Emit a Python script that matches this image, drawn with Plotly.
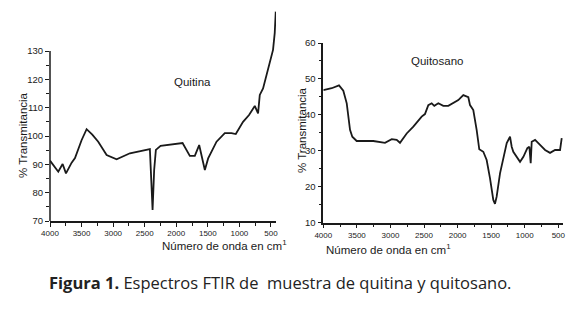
import plotly.graph_objects as go

# Quitina spectrum (wavenumber cm-1, % transmittance)
quitina_x = [4000, 3869, 3800, 3747, 3657, 3604, 3500, 3420, 3330, 3236, 3103, 2945,
             2734, 2445, 2418, 2395, 2375, 2350, 2323, 2248, 2100, 1943, 1900, 1785,
             1706, 1637, 1547, 1495, 1362, 1231, 1125, 1057, 942, 847, 756, 704, 677,
             625, 546, 467, 440, 424]
quitina_y = [91.3, 87.4, 90.1, 86.8, 90.6, 92.2, 98.5, 102.4, 100.5, 98.0, 93.3, 91.8,
             93.9, 95.3, 95.4, 84.0, 73.9, 88.0, 95.1, 96.5, 97.0, 97.6, 97.5, 93.0,
             93.0, 96.8, 88.0, 92.1, 98.0, 101.0, 101.0, 100.7, 105.0, 107.4, 110.6,
             108.0, 114.5, 116.8, 123.3, 130.4, 136.4, 143.9]

# Quitosano spectrum
quitosano_x = [4000, 3875, 3766, 3702, 3651, 3627, 3602, 3568, 3503, 3255, 3081, 2981,
               2907, 2858, 2758, 2659, 2535, 2486, 2436, 2386, 2347, 2287, 2213, 2138,
               1989, 1915, 1840, 1815, 1766, 1716, 1677, 1617, 1567, 1517, 1468, 1443,
               1418, 1368, 1319, 1268, 1219, 1194, 1170, 1120, 1070, 1020, 961, 931,
               911, 896, 846, 772, 697, 623, 548, 474, 449]
quitosano_y = [46.9, 47.4, 48.2, 46.7, 43.2, 39.5, 35.8, 33.9, 32.7, 32.7, 32.2, 33.2,
               33.0, 32.2, 34.8, 36.7, 39.5, 40.2, 42.7, 43.2, 42.5, 43.2, 42.5, 42.5,
               44.1, 45.5, 44.9, 42.7, 41.3, 35.8, 30.4, 29.7, 27.4, 22.3, 16.3, 15.2,
               17.2, 23.7, 27.9, 32.1, 33.9, 31.1, 29.7, 28.3, 26.9, 28.3, 30.7, 31.1,
               26.5, 32.5, 33.0, 31.6, 30.2, 29.4, 30.2, 30.2, 33.5]

x_ticks = [4000, 3500, 3000, 2500, 2000, 1500, 1000, 500]
x_minor = [3750, 3250, 2750, 2250, 1750, 1250, 750]
yq_ticks = [70, 80, 90, 100, 110, 120, 130]
yq_minor = [75, 85, 95, 105, 115, 125]
yc_ticks = [10, 20, 30, 40, 50, 60]
yc_minor = [15, 25, 35, 45, 55]

# page body has an 8px margin; figure sized so it fits the 575x319 window
OFF = 8
W, H = 575 - OFF, 319 - OFF


def xp(px):
    return (px - OFF) / W


def yp(py):
    return (H - (py - OFF)) / H


ink = "#1a1a1a"
xtickfont = dict(family="Liberation Sans, Arial, sans-serif", size=8, color=ink)
ytickfont = dict(family="Liberation Sans, Arial, sans-serif", size=9.5, color=ink)

fig = go.Figure()
fig.add_trace(go.Scatter(x=quitina_x, y=quitina_y, mode="lines",
                         line=dict(color=ink, width=1.8), xaxis="x", yaxis="y",
                         showlegend=False))
fig.add_trace(go.Scatter(x=quitosano_x, y=quitosano_y, mode="lines",
                         line=dict(color=ink, width=1.8), xaxis="x2", yaxis="y2",
                         showlegend=False))

axis_common = dict(showgrid=False, zeroline=False, ticks="outside", ticklen=4,
                   tickwidth=1.3, tickcolor=ink, fixedrange=True, automargin=False)
minor_style = dict(ticks="outside", ticklen=3, tickcolor=ink, tickwidth=1.2)

fig.update_layout(
    template="none",
    width=W, height=H, margin=dict(l=0, r=0, t=0, b=0, autoexpand=False),
    paper_bgcolor="white", plot_bgcolor="white",
    xaxis=dict(domain=[xp(50), xp(276)], range=[4000, 420], anchor="y",
               tickvals=x_ticks, showline=True, linecolor=ink, linewidth=1.5,
               tickfont=xtickfont, minor=dict(tickvals=x_minor, **minor_style),
               **axis_common),
    yaxis=dict(domain=[yp(221), yp(8.5)], range=[70, 145], anchor="x",
               tickvals=yq_ticks, showline=False, tickfont=ytickfont,
               minor=dict(tickvals=yq_minor, **minor_style),
               **axis_common),
    xaxis2=dict(domain=[xp(323.3), xp(563)], range=[4000, 430], anchor="y2",
                tickvals=x_ticks, showline=True, linecolor=ink, linewidth=1.5,
                tickfont=xtickfont, minor=dict(tickvals=x_minor, **minor_style),
                **axis_common),
    yaxis2=dict(domain=[yp(222.5), yp(43)], range=[10, 60], anchor="x2",
                tickvals=yc_ticks, showline=True, linecolor=ink, linewidth=1.5,
                tickfont=ytickfont, minor=dict(tickvals=yc_minor, **minor_style),
                **axis_common),
)

# left y-axis line only up to 130
fig.add_shape(type="line", xref="x domain", yref="y", x0=0, x1=0,
              y0=yq_ticks[0], y1=yq_ticks[-1], line=dict(color=ink, width=1.5))

lab = dict(family="Liberation Sans, Arial, sans-serif", size=11.5, color=ink)
fig.add_annotation(text="Quitina", xref="paper", yref="paper", x=xp(172), y=yp(74),
                   showarrow=False, font=lab)
fig.add_annotation(text="Quitosano", xref="paper", yref="paper", x=xp(465), y=yp(53),
                   showarrow=False, font=lab)
fig.add_annotation(text="% Transmitancia", xref="paper", yref="paper", x=xp(15),
                   y=yp(135), textangle=-90, showarrow=False, font=lab)
fig.add_annotation(text="% Transmitancia", xref="paper", yref="paper", x=xp(302),
                   y=yp(130), textangle=-90, showarrow=False, font=lab)
fig.add_annotation(text="Número de onda en cm<sup>1</sup>", xref="paper", yref="paper",
                   x=xp(160), y=yp(254), showarrow=False, font=lab)
fig.add_annotation(text="Número de onda en cm<sup>1</sup>", xref="paper", yref="paper",
                   x=xp(453), y=yp(258), showarrow=False, font=lab)
fig.add_annotation(text="<b>Figura 1.</b> Espectros FTIR de&nbsp; muestra de quitina y quitosano.",
                   xref="paper", yref="paper", x=xp(280), y=yp(296), showarrow=False,
                   font=dict(family="Open Sans, Lato, sans-serif", size=16.5, color="#222"))

fig.write_html("out.html", config=dict(displayModeBar=False))
